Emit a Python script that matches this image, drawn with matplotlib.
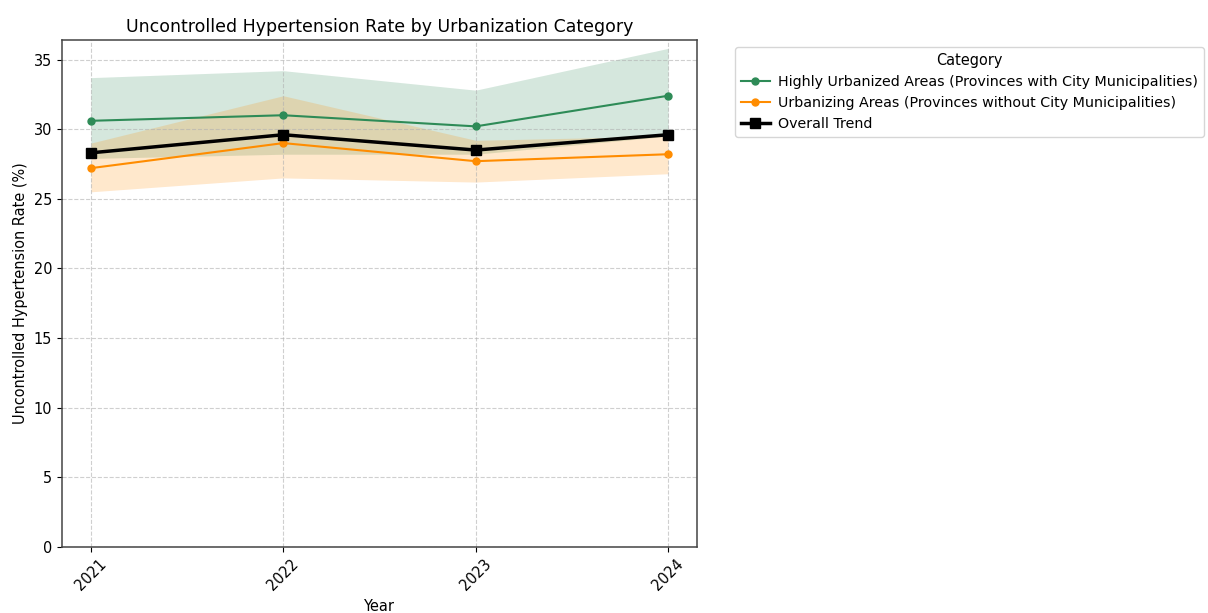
import matplotlib
matplotlib.use("Agg")
import matplotlib.pyplot as plt

years = [2021, 2022, 2023, 2024]

urban_rate = [30.6, 31.0, 30.2, 32.4]
urban_low = [27.9, 28.2, 28.2, 29.5]
urban_high = [33.7, 34.2, 32.8, 35.8]

rural_rate = [27.2, 29.0, 27.7, 28.2]
rural_low = [25.5, 26.5, 26.2, 26.8]
rural_high = [29.0, 32.4, 29.2, 29.5]

overall_rate = [28.3, 29.6, 28.5, 29.6]

labels = [
    "Highly Urbanized Areas (Provinces with City Municipalities)",
    "Urbanizing Areas (Provinces without City Municipalities)",
    "Overall Trend",
]

green = "#2e8b57"
orange = "#ff8c00"

plt.rcParams["font.size"] = 10.45

fig = plt.figure(figsize=(12.08, 6.13), dpi=100)
ax = fig.add_axes([0.0513, 0.1077, 0.5257, 0.827])

ax.fill_between(years, urban_low, urban_high, color=green, alpha=0.2, linewidth=0)
ax.fill_between(years, rural_low, rural_high, color=orange, alpha=0.2, linewidth=0)
ax.plot(years, urban_rate, color=green, marker="o", markersize=5, linewidth=1.5, label=labels[0])
ax.plot(years, rural_rate, color=orange, marker="o", markersize=5, linewidth=1.5, label=labels[1])
ax.plot(years, overall_rate, color="black", marker="s", markersize=7, linewidth=2.5, label=labels[2])

ax.set_ylim(0, 36.4)
ax.set_xticks(years)
ax.set_xticklabels([str(y) for y in years], rotation=45)
ax.grid(True, linestyle="--", alpha=0.6)
for s in ax.spines.values():
    s.set_color("#444444")
    s.set_linewidth(1.1)
ax.set_title("Uncontrolled Hypertension Rate by Urbanization Category", fontsize=12.5)
ax.set_xlabel("Year")
ax.set_ylabel("Uncontrolled Hypertension Rate (%)")

ax.legend(title="Category", loc="upper left", bbox_to_anchor=(1.049, 1.0),
          fontsize=10.3, handletextpad=0.6)

fig.savefig("out.png", dpi=100)
